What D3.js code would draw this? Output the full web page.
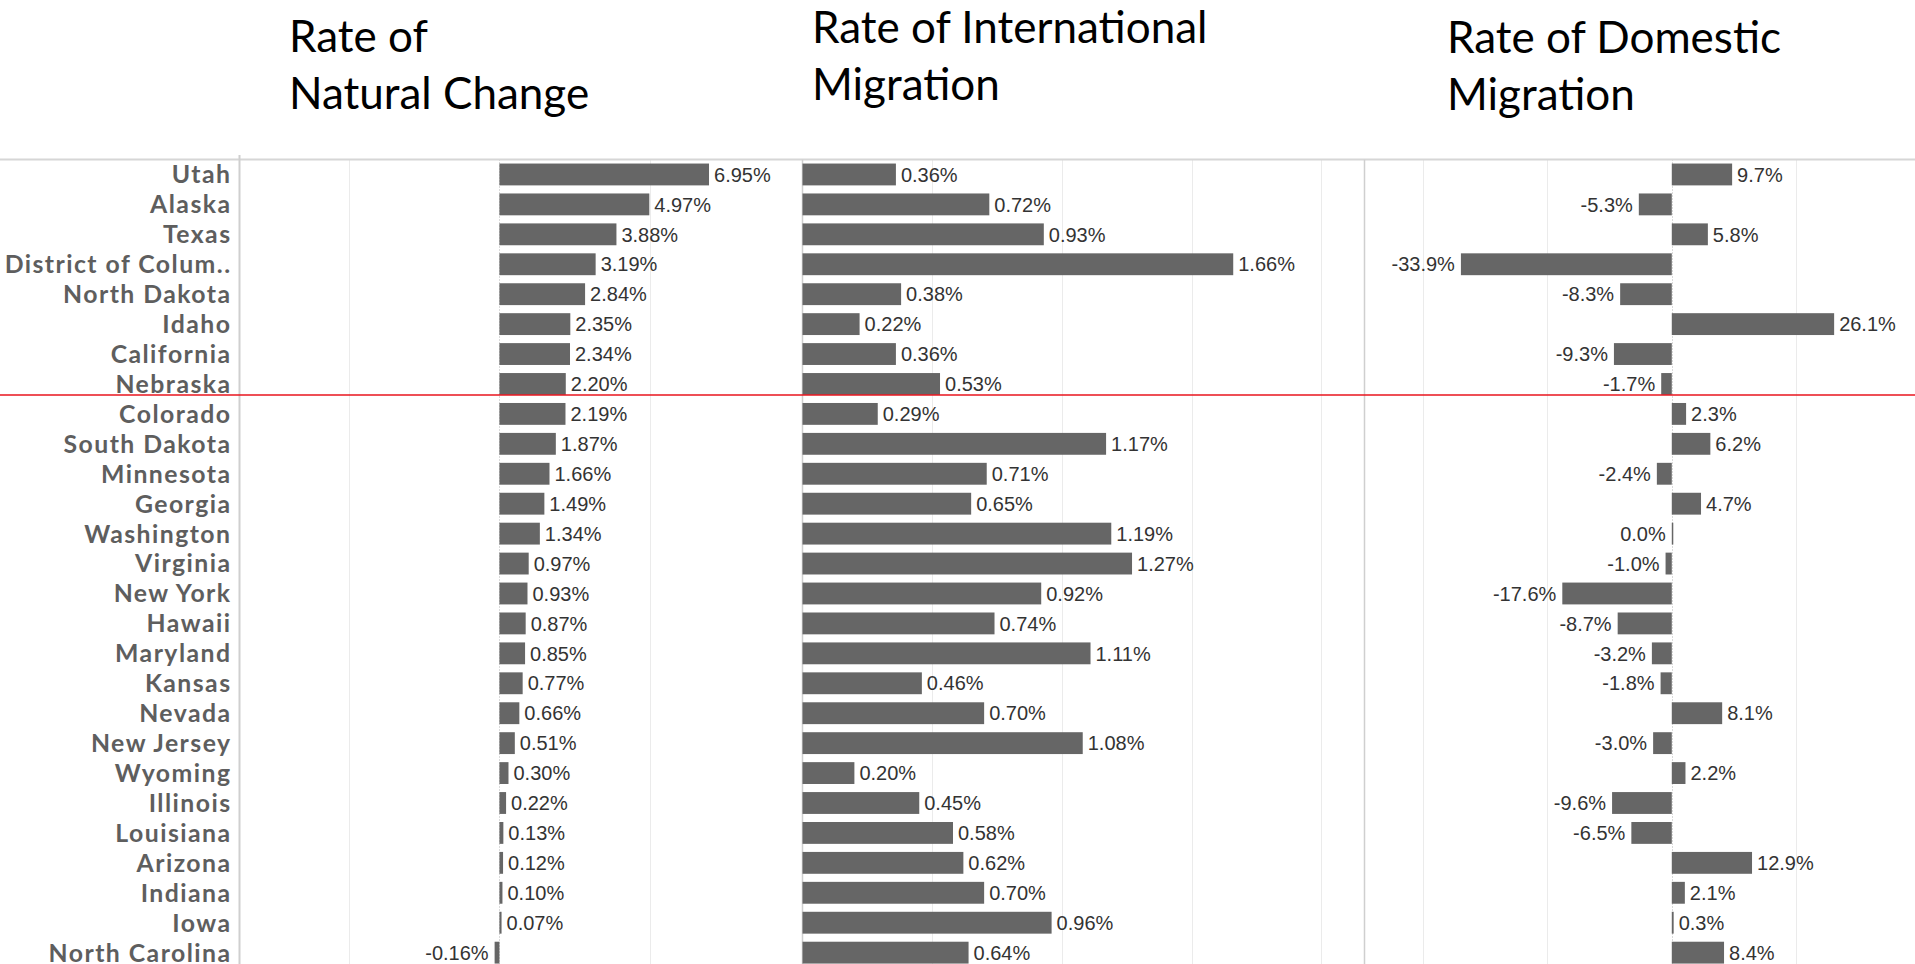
<!DOCTYPE html>
<html><head><meta charset="utf-8">
<script src="https://cdn.jsdelivr.net/npm/d3@7"></script>
<style>
html,body{margin:0;padding:0;background:#fff;overflow:hidden}
</style></head><body>
<svg id="chart" width="1915" height="964"></svg>
<script>
// ---------- data ----------
const states = ["Utah","Alaska","Texas","District of Colum..","North Dakota","Idaho","California","Nebraska",
  "Colorado","South Dakota","Minnesota","Georgia","Washington","Virginia","New York","Hawaii","Maryland",
  "Kansas","Nevada","New Jersey","Wyoming","Illinois","Louisiana","Arizona","Indiana","Iowa","North Carolina"];
const naturalChange = [6.95,4.97,3.88,3.19,2.84,2.35,2.34,2.20,2.19,1.87,1.66,1.49,1.34,0.97,0.93,0.87,0.85,
  0.77,0.66,0.51,0.30,0.22,0.13,0.12,0.10,0.07,-0.16];
const intlMigration = [0.36,0.72,0.93,1.66,0.38,0.22,0.36,0.53,0.29,1.17,0.71,0.65,1.19,1.27,0.92,0.74,1.11,
  0.46,0.70,1.08,0.20,0.45,0.58,0.62,0.70,0.96,0.64];
const domesticMigration = [9.7,-5.3,5.8,-33.9,-8.3,26.1,-9.3,-1.7,2.3,6.2,-2.4,4.7,0.0,-1.0,-17.6,-8.7,-3.2,
  -1.8,8.1,-3.0,2.2,-9.6,-6.5,12.9,2.1,0.3,8.4];
const gridNatural = [-5, 0, 5];
const gridIntl = [0.5, 1, 1.5, 2];
const gridDomestic = [-40, -20, 0, 20];
const titleNatural = ["Rate of", "Natural Change"];
const titleIntl = ["Rate of International", "Migration"];
const titleDomestic = ["Rate of Domestic", "Migration"];
const cutoffState = "Nebraska";

// ---------- layout ----------
const W = 1915, H = 964;
const topY = 159.5, rowStep = 29.93;
const svg = d3.select("#chart");

const y = d3.scaleBand().domain(states)
  .range([topY, topY + rowStep * states.length])
  .paddingInner(0.27).paddingOuter(0.135);

const panes = [
  {values: naturalChange, x: d3.scaleLinear().domain([-8.62, 10.05]).range([239.5, 802.5]),
   digits: 2, grid: gridNatural, title: titleNatural, tx: 289, ty: 52, dotted: true},
  {values: intlMigration, x: d3.scaleLinear().domain([0, 2.164]).range([802.5, 1364]),
   digits: 2, grid: gridIntl, title: titleIntl, tx: 812, ty: 43, dotted: false},
  {values: domesticMigration, x: d3.scaleLinear().domain([-49.4, 39.1]).range([1364.5, 1915]),
   digits: 1, grid: gridDomestic, title: titleDomestic, tx: 1447, ty: 53, dotted: true}
];

svg.append("rect").attr("width", W).attr("height", H).attr("fill", "#fff");

// titles
panes.forEach(p => {
  const t = svg.append("text")
    .attr("x", p.tx).attr("y", p.ty)
    .attr("font-family", "Lato, sans-serif").attr("font-size", 44).attr("fill", "#000");
  p.title.forEach((line, i) => {
    t.append("tspan").attr("x", p.tx).attr("y", p.ty + i * 57).text(line);
  });
});

// gridlines
panes.forEach(p => {
  svg.append("g").selectAll("line").data(p.grid.filter(v => v !== 0)).join("line")
    .attr("x1", d => Math.round(p.x(d)) + 0.5).attr("x2", d => Math.round(p.x(d)) + 0.5)
    .attr("y1", topY).attr("y2", H)
    .attr("stroke", "#ebebeb").attr("stroke-width", 1);
  if (p.dotted) {
    svg.append("line")
      .attr("x1", Math.round(p.x(0)) + 0.5).attr("x2", Math.round(p.x(0)) + 0.5)
      .attr("y1", topY).attr("y2", H)
      .attr("stroke", "#b5b5b5").attr("stroke-width", 1).attr("stroke-dasharray", "1,2");
  }
});

// top border + pane dividers
svg.append("line").attr("x1", 0).attr("x2", W).attr("y1", topY).attr("y2", topY)
  .attr("stroke", "#d6d6d6").attr("stroke-width", 2);
[239.5, 802.5, 1364.5].forEach((xx, i) => {
  svg.append("line").attr("x1", xx).attr("x2", xx).attr("y1", i === 0 ? 155 : topY).attr("y2", H)
    .attr("stroke", "#cfcfcf").attr("stroke-width", i === 0 ? 2 : 1.5);
});

// row labels
svg.append("g").selectAll("text").data(states).join("text")
  .attr("x", 231.5).attr("y", d => y(d) + y.bandwidth() / 2)
  .attr("dy", "0.36em").attr("text-anchor", "end")
  .attr("font-family", "Lato, sans-serif").attr("font-weight", 700).attr("font-size", 24.8)
  .attr("letter-spacing", "1.45px")
  .attr("fill", "#5e5e5e").text(d => d);

// bars + labels
panes.forEach(p => {
  const data = states.map((s, i) => ({s, v: p.values[i]}));
  const x0 = p.x(0);
  svg.append("g").selectAll("rect").data(data).join("rect")
    .attr("x", d => Math.min(x0, p.x(d.v)))
    .attr("y", d => y(d.s))
    .attr("width", d => Math.max(1.5, Math.abs(p.x(d.v) - x0)))
    .attr("height", y.bandwidth())
    .attr("fill", "#666666");
  svg.append("g").selectAll("text").data(data).join("text")
    .attr("x", d => d.v > 0 ? p.x(d.v) + 5 : Math.min(x0, p.x(d.v)) - 6)
    .attr("y", d => y(d.s) + y.bandwidth() / 2)
    .attr("dy", "0.36em")
    .attr("text-anchor", d => d.v > 0 ? "start" : "end")
    .attr("font-family", "'Liberation Sans', Arial, sans-serif").attr("font-size", 20)
    .attr("fill", "#333").text(d => d.v.toFixed(p.digits) + "%");
});

// red cutoff line
const redY = y(cutoffState) + y.bandwidth();
svg.append("line").attr("x1", 0).attr("x2", W).attr("y1", redY).attr("y2", redY)
  .attr("stroke", "#e8141e").attr("stroke-width", 1.5);
</script>
</body></html>
